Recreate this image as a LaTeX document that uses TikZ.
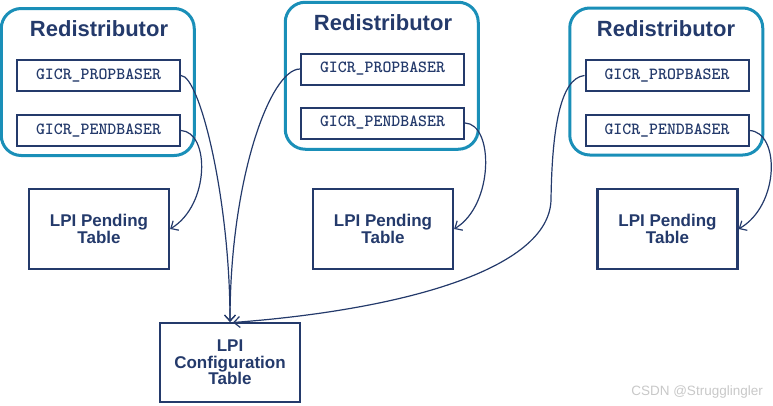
\documentclass[tikz,border=0pt]{standalone}
\usepackage{fontspec}
\setmainfont{Liberation Sans}
\usetikzlibrary{arrows.meta}
\definecolor{navy}{HTML}{243A6B}
\definecolor{tealc}{HTML}{1A8FB8}
\definecolor{wm}{HTML}{C8C8C8}
\tikzset{
  redist/.style={draw=tealc, line width=3pt, rounded corners=20pt, minimum width=193pt, minimum height=147pt, inner sep=0pt},
  rtitle/.style={text=navy, font=\fontsize{22}{24}\selectfont\bfseries, inner sep=0pt},
  reg/.style={draw=navy, line width=2pt, minimum width=163pt, minimum height=31pt, inner sep=0pt, text=navy, font=\fontsize{17}{19}\selectfont\ttfamily\bfseries},
  tbl/.style={draw=navy, line width=2.2pt, minimum width=140pt, minimum height=80pt, inner sep=0pt, text=navy, align=center, font=\fontsize{17}{16.5}\selectfont\bfseries},
  conn/.style={draw=navy, line width=1.2pt, -{Straight Barb[length=6pt,width=11pt]}},
}
\begin{document}
\begin{tikzpicture}[x=1pt,y=-1pt]
\useasboundingbox (0,0) rectangle (773,405);
% Redistributor boxes
\node[redist] (rL) at (97.75,82) {};
\node[redist] (rM) at (381.75,75.75) {};
\node[redist] (rR) at (666.25,81.5) {};
\node[rtitle] (tL) at (99,29) {Redistributor};
\node[rtitle] (tM) at (383,23) {Redistributor};
\node[rtitle] (tR) at (666,29) {Redistributor};
% registers
\node[reg] (ppL) at (98.5,75.5) {GICR\_PROPBASER};
\node[reg] (pdL) at (98.5,130.5) {GICR\_PENDBASER};
\node[reg] (ppM) at (382.5,69) {GICR\_PROPBASER};
\node[reg] (pdM) at (382.5,123) {GICR\_PENDBASER};
\node[reg] (ppR) at (667,75.5) {GICR\_PROPBASER};
\node[reg] (pdR) at (667,130.5) {GICR\_PENDBASER};
% tables
\node[tbl] (ptL) at (99,229) {LPI Pending\\Table};
\node[tbl] (ptM) at (383,229) {LPI Pending\\Table};
\node[tbl] (ptR) at (667.5,229) {LPI Pending\\Table};
\node[tbl, minimum height=79pt] (cfg) at (230,362.5) {LPI\\Configuration\\Table};
\coordinate (cfgin) at (233,322.5);
% connectors
\draw[conn] (pdL.east) .. controls (210,132) and (210,205) .. (ptL.east);
\draw[conn] (pdM.east) .. controls (494,124) and (494,205) .. (ptM.east);
\draw[conn] (pdR.east) .. controls (780,132) and (780,205) .. (ptR.east);
\draw[conn] (ppL.east) .. controls (200,76) and (230,200) .. (cfg.north);
\draw[conn] (ppM.west) .. controls (270,69) and (230,180) .. (cfg.north);
\draw[conn] (ppR.west) .. controls (560,78) and (552,130) .. (551,200) .. controls (549,270) and (400,310) .. (cfgin);
% watermark
\node[anchor=east, text=wm, font=\fontsize{13.5}{15}\selectfont, inner sep=0pt] (wmk) at (763,392) {CSDN @Strugglingler};
\end{tikzpicture}
\end{document}
